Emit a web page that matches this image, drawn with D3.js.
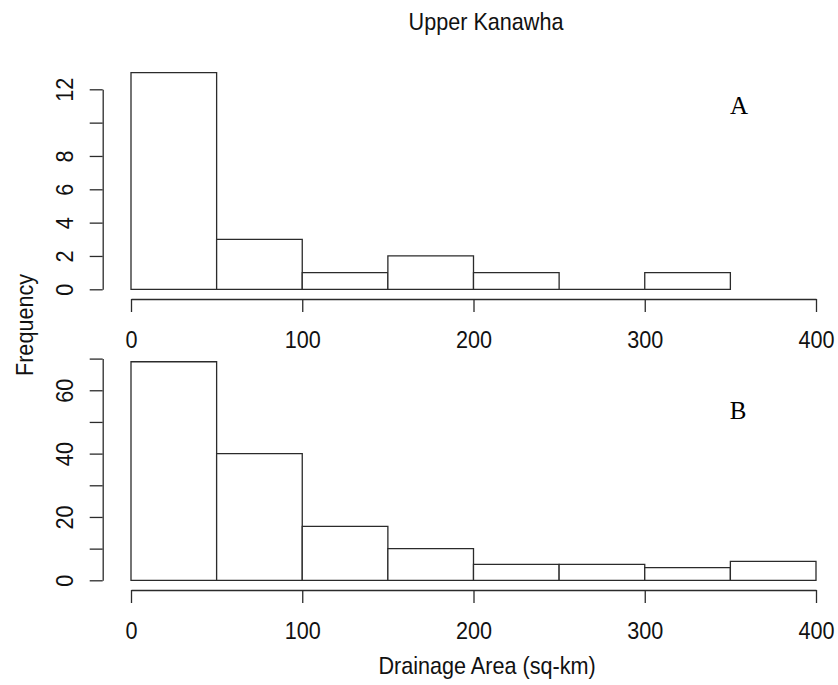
<!DOCTYPE html>
<html>
<head>
<meta charset="utf-8">
<script src="https://cdn.jsdelivr.net/npm/d3@7"></script>
<style>
  html, body { margin: 0; padding: 0; background: #fff; }
  svg { display: block; }
  text { font-family: "Liberation Sans", Arial, sans-serif; fill: #111; }
  text.tag { font-family: "Liberation Serif", "Times New Roman", serif; fill: #000; }
</style>
</head>
<body>
<svg id="chart" width="838" height="685"></svg>
<script>
// Histogram bins (sq-km) and counts for the two panels
const binEdges = [0, 50, 100, 150, 200, 250, 300, 350, 400];
const countsA = [13, 3, 1, 2, 1, 0, 1];
const countsB = [69, 40, 17, 10, 5, 5, 4, 6];
const xTicks = [0, 100, 200, 300, 400];
const yTicksA = [0, 2, 4, 6, 8, 10, 12];
const yLabelsA = [0, 2, 4, 6, 8, 12];
const yTicksB = [0, 10, 20, 30, 40, 50, 60, 70];
const yLabelsB = [0, 20, 40, 60];

const title = "Upper Kanawha";
const xTitle = "Drainage Area (sq-km)";
const yTitle = "Frequency";

const svg = d3.select("#chart");
const ink = "#2b2b2b";
const fontPx = 24;
const squeeze = 0.9;

const x = d3.scaleLinear().domain([0, 400]).range([131, 816]);

const panels = [
  { counts: countsA, yTicks: yTicksA, yLabels: yLabelsA, y: d3.scaleLinear().domain([0, 12]).range([289.3, 89.3]), axisY: 299, tag: "A", tagPos: [739, 114] },
  { counts: countsB, yTicks: yTicksB, yLabels: yLabelsB, y: d3.scaleLinear().domain([0, 70]).range([580.3, 358.6]), axisY: 590, tag: "B", tagPos: [738, 419] }
];

panels.forEach(p => {
  const bins = p.counts.map((c, i) => ({ x0: binEdges[i], x1: binEdges[i + 1], n: c }));
  const g = svg.append("g");

  // each bar is a closed outline so that empty bins still show their base
  g.selectAll("path.bar").data(bins).join("path")
    .attr("class", "bar")
    .attr("d", d => {
      const x0 = x(d.x0), x1 = x(d.x1), y0 = p.y(0), y1 = p.y(d.n);
      return `M${x0},${y0}V${y1}H${x1}V${y0}Z`;
    })
    .attr("fill", "#fff")
    .attr("stroke", ink)
    .attr("stroke-width", 1.3);

  // x axis
  const xa = g.append("g")
    .attr("transform", `translate(0,${p.axisY})`)
    .call(d3.axisBottom(x).tickValues(xTicks).tickSizeInner(13).tickSizeOuter(0).tickPadding(19));
  xa.selectAll("path,line").attr("stroke", ink).attr("stroke-width", 1.3);
  xa.selectAll("text").attr("font-size", fontPx)
    .each(function () {
      const t = d3.select(this);
      const yy = +t.attr("y");
      t.attr("y", null).attr("dy", null)
        .attr("transform", `translate(0,${yy + 0.71 * fontPx}) scale(${squeeze},1)`);
    });

  // y axis with rotated labels
  const ya = g.append("g")
    .attr("transform", `translate(102.7,0)`)
    .call(d3.axisLeft(p.y).tickValues(p.yTicks).tickSizeInner(13).tickSizeOuter(0)
      .tickFormat(v => p.yLabels.includes(v) ? String(v) : ""));
  ya.selectAll("path,line").attr("stroke", ink).attr("stroke-width", 1.3);
  ya.selectAll("text")
    .attr("font-size", fontPx)
    .attr("x", null).attr("dy", null)
    .attr("text-anchor", "middle")
    .attr("transform", `translate(-30,0) rotate(-90) scale(${squeeze},1)`);

  // panel tag
  svg.append("text")
    .attr("class", "tag")
    .attr("x", p.tagPos[0]).attr("y", p.tagPos[1])
    .attr("text-anchor", "middle")
    .attr("font-size", 25)
    .text(p.tag);
});

// titles
svg.append("text")
  .attr("text-anchor", "middle")
  .attr("font-size", fontPx)
  .attr("transform", `translate(486,30) scale(${squeeze},1)`)
  .text(title);

svg.append("text")
  .attr("text-anchor", "middle")
  .attr("font-size", fontPx)
  .attr("transform", `translate(487,674) scale(${squeeze},1)`)
  .text(xTitle);

svg.append("text")
  .attr("text-anchor", "middle")
  .attr("font-size", fontPx)
  .attr("transform", `translate(33,325) rotate(-90) scale(${squeeze},1)`)
  .text(yTitle);
</script>
</body>
</html>
